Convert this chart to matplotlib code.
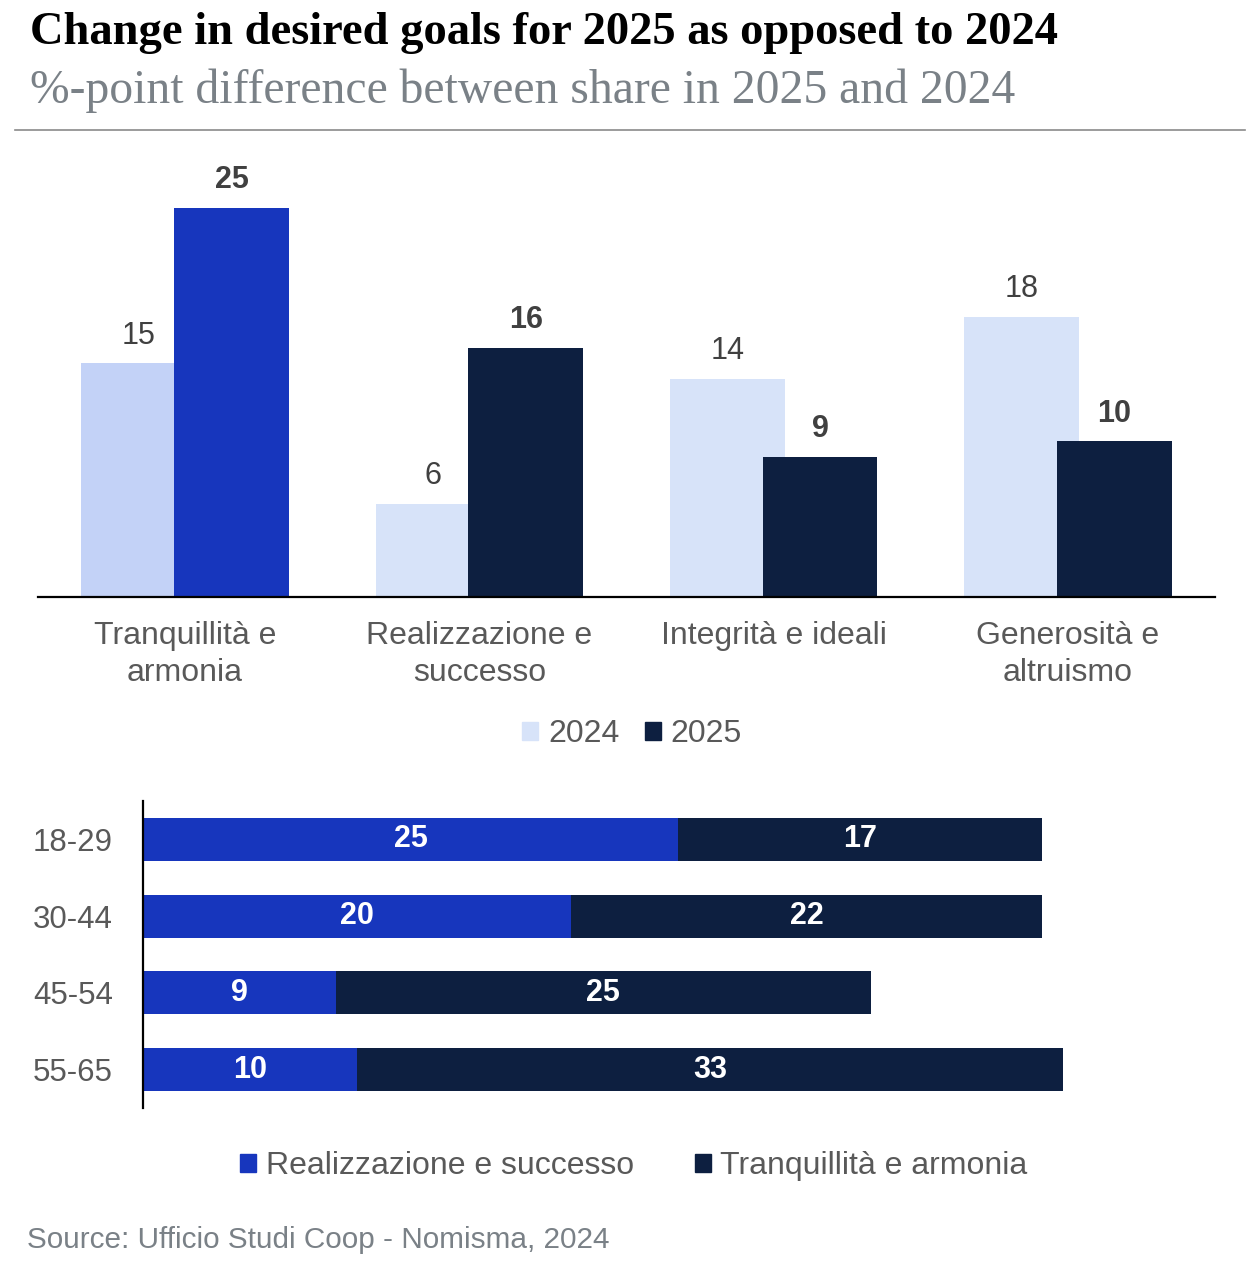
import matplotlib
matplotlib.use("Agg")
import matplotlib.pyplot as plt
from matplotlib.patches import Patch
from matplotlib.lines import Line2D

W, H = 1256, 1263

# top chart data
goals = ["Tranquillità e\narmonia", "Realizzazione e\nsuccesso", "Integrità e ideali", "Generosità e\naltruismo"]
share_2024 = [15, 6, 14, 18]
share_2025 = [25, 16, 9, 10]

# bottom chart data
age_groups = ["18-29", "30-44", "45-54", "55-65"]
realizzazione = [25, 20, 9, 10]
tranquillita = [17, 22, 25, 33]

BLUE = "#1736bd"
NAVY = "#0d1f40"
LIGHT_HI = "#c3d2f7"
LIGHT = "#d7e3f9"
GREY_TXT = "#595959"
VAL_TXT = "#404040"

SANS = ["Liberation Sans", "DejaVu Sans"]
SERIF = ["Liberation Serif", "DejaVu Serif"]
plt.rcParams["font.family"] = SANS


def fx(px):
    return px / W


def fy(py):
    return 1 - py / H


fig = plt.figure(figsize=(W / 100, H / 100), dpi=100)

# titles
fig.text(fx(30), fy(44), "Change in desired goals for 2025 as opposed to 2024",
         family=SERIF, weight="bold", fontsize=33.5, color="black", va="baseline")
fig.text(fx(30), fy(103), "%-point difference between share in 2025 and 2024",
         family=SERIF, fontsize=34.3, color="#7a8187", va="baseline")
fig.add_artist(Line2D([fx(15), fx(1245)], [fy(130), fy(130)], color="#8a8a8a", lw=1.2))

# top grouped bars (2025 bar overlaps the 2024 one a little)
ax1 = fig.add_axes([fx(38), fy(597), fx(1215) - fx(38), (597 - 192) / H])
x = list(range(len(goals)))
bw = 0.39
off = 0.158
for i in x:
    c24 = LIGHT_HI if i == 0 else LIGHT
    c25 = BLUE if i == 0 else NAVY
    b1 = ax1.bar(i - off, share_2024[i], width=bw, color=c24)
    b2 = ax1.bar(i + off, share_2025[i], width=bw, color=c25)
    ax1.bar_label(b1, padding=9, fontsize=22, color=VAL_TXT)
    ax1.bar_label(b2, padding=9, fontsize=22, color=VAL_TXT, weight="bold")
ax1.set_xlim(-0.5, 3.5)
ax1.set_ylim(0, 26)
ax1.set_yticks([])
ax1.set_xticks(x)
ax1.set_xticklabels(goals, fontsize=23, color=GREY_TXT, linespacing=1.3)
ax1.tick_params(axis="x", length=0, pad=17)
for s in ["top", "right", "left"]:
    ax1.spines[s].set_visible(False)
ax1.spines["bottom"].set_color("black")
ax1.spines["bottom"].set_linewidth(1.6)

leg1 = [Patch(color=LIGHT, label="2024"), Patch(color=NAVY, label="2025")]
fig.legend(handles=leg1, loc="center", bbox_to_anchor=(fx(632), fy(734)), ncol=2,
           frameon=False, fontsize=23, labelcolor=GREY_TXT, handlelength=0.5,
           handleheight=0.5, handletextpad=0.3, columnspacing=0.8)

# bottom stacked bars
ax2 = fig.add_axes([fx(143), fy(1108), fx(1213) - fx(143), (1108 - 801) / H])
y = list(range(len(age_groups)))
bh = 0.56
r1 = ax2.barh(y, realizzazione, height=bh, color=BLUE)
r2 = ax2.barh(y, tranquillita, left=realizzazione, height=bh, color=NAVY)
ax2.bar_label(r1, label_type="center", color="white", weight="bold", fontsize=22)
ax2.bar_label(r2, label_type="center", color="white", weight="bold", fontsize=22)
ax2.set_ylim(3.5, -0.5)
ax2.set_xlim(0, 50)
ax2.set_xticks([])
ax2.set_yticks(y)
ax2.set_yticklabels(age_groups, fontsize=22.5, color=GREY_TXT)
ax2.tick_params(axis="y", length=0, pad=21.6)
for s in ["top", "right", "bottom"]:
    ax2.spines[s].set_visible(False)
ax2.spines["left"].set_color("black")
ax2.spines["left"].set_linewidth(1.6)

leg2 = [Patch(color=BLUE, label="Realizzazione e successo"),
        Patch(color=NAVY, label="Tranquillità e armonia")]
fig.legend(handles=leg2, loc="center", bbox_to_anchor=(fx(634), fy(1166)), ncol=2,
           frameon=False, fontsize=23, labelcolor=GREY_TXT, handlelength=0.5,
           handleheight=0.5, handletextpad=0.3, columnspacing=1.9)

fig.text(fx(27), fy(1240), "Source: Ufficio Studi Coop - Nomisma, 2024",
         fontsize=21.4, color="#7a8187", va="center")

fig.savefig("out.png", dpi=100)
